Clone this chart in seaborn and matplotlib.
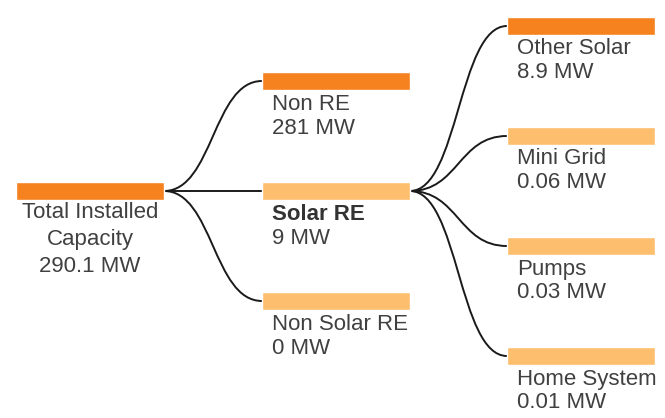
import matplotlib
matplotlib.use("Agg")
import matplotlib.pyplot as plt
import seaborn as sns
from matplotlib.path import Path
from matplotlib.patches import PathPatch

# Tree data: node names, capacity (MW), parent index
names = ["Total Installed\nCapacity", "Non RE", "Solar RE", "Non Solar RE",
         "Other Solar", "Mini Grid", "Pumps", "Home System"]
values = [290.1, 281, 9, 0, 8.9, 0.06, 0.03, 0.01]
parents = [None, 0, 0, 0, 2, 2, 2, 2]

dark = "#F5821F"
light = "#FDBE6E"
line_col = "#1a1a1a"
text_col = "#404040"

sns.set_theme(style="white")
plt.rcParams["font.family"] = ["Liberation Sans", "DejaVu Sans"]

# layout (pixel-like coordinates)
level_left = [16, 262, 507]
bar_w = 148
bar_h = 18
center_y = 191
spacing = 110


def level_of(i):
    lv = 0
    while parents[i] is not None:
        i = parents[i]
        lv += 1
    return lv


levels = [level_of(i) for i in range(len(names))]
pos = {}
for lv in sorted(set(levels)):
    idx = [i for i in range(len(names)) if levels[i] == lv]
    n = len(idx)
    for k, i in enumerate(idx):
        pos[i] = (level_left[lv], center_y + (k - (n - 1) / 2) * spacing)

fig = plt.figure(figsize=(6.65, 4.18), dpi=100)
ax = fig.add_axes([0, 0, 1, 1])
ax.set_xlim(0, 665)
ax.set_ylim(418, 0)
ax.axis("off")

# links
for i, p in enumerate(parents):
    if p is None:
        continue
    x0 = pos[p][0] + bar_w
    y0 = pos[p][1]
    x1, y1 = pos[i]
    xm = (x0 + x1) / 2
    path = Path([(x0, y0), (xm, y0), (xm, y1), (x1, y1)],
                [Path.MOVETO, Path.CURVE4, Path.CURVE4, Path.CURVE4])
    ax.add_patch(PathPatch(path, fc="none", ec=line_col, lw=1.4, zorder=1))

# bars and labels
for i, name in enumerate(names):
    x, y = pos[i]
    p = parents[i]
    if p is None:
        col = dark
    else:
        sib = [j for j in range(len(names)) if parents[j] == p]
        col = dark if values[i] == max(values[j] for j in sib) else light
    ax.barh(y, bar_w, left=x, height=bar_h, color=col, zorder=2)
    val = f"{values[i]:g} MW"
    if p is None:
        lines = name.split("\n") + [val]
        for k, t in enumerate(lines):
            ax.text(x + bar_w / 2, y + 22 + k * 27, t, ha="center", va="center",
                    fontsize=16, color=text_col)
    else:
        has_kids = i in parents
        dy = 24 if levels[i] == 1 else 23
        ax.text(x + 10, y + dy, name, ha="left", va="center", fontsize=16,
                color="#333333" if has_kids else text_col,
                fontweight="bold" if has_kids else "normal")
        ax.text(x + 10, y + dy + 23, val, ha="left", va="center", fontsize=16,
                color=text_col)

fig.savefig("out.png", dpi=100)
